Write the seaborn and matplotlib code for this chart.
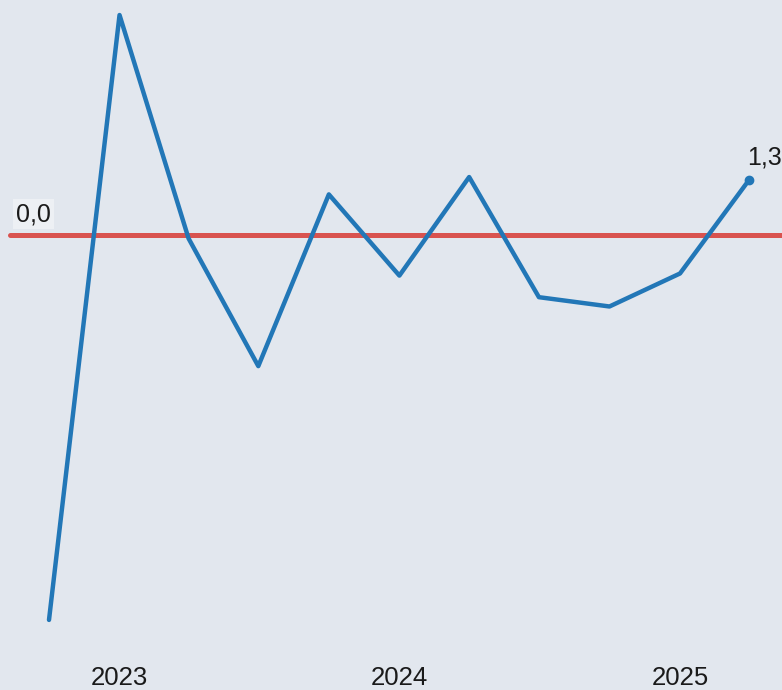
import pandas as pd
import numpy as np
import matplotlib
matplotlib.use('Agg')
import matplotlib.pyplot as plt
import matplotlib.dates as mdates
import matplotlib.transforms as mtransforms
import seaborn as sns

# Quarterly values
dates = ['2022-10-01', '2023-01-01', '2023-04-01', '2023-07-01', '2023-10-01', '2024-01-01',
         '2024-04-01', '2024-07-01', '2024-10-01', '2025-01-01', '2025-04-01']
values = [-9.1, 5.2, -0.08, -3.1, 0.96, -0.96, 1.37, -1.47, -1.69, -0.91, 1.3]
baseline = 0.0
year_ticks = ['2023-01-01', '2024-01-01', '2025-01-01']
year_labels = ['2023', '2024', '2025']

df = pd.DataFrame({'date': pd.to_datetime(dates), 'value': values})

bg = '#e2e7ee'
blue = '#2277b7'
red = '#d9534f'

sns.set_theme(style='white')
plt.rcParams['font.family'] = ['Liberation Sans', 'DejaVu Sans']

fig = plt.figure(figsize=(7.82, 6.9), dpi=100)
fig.patch.set_facecolor(bg)
ax = fig.add_axes([0, 35 / 690, 1, 655 / 690])
ax.set_facecolor(bg)

sns.lineplot(data=df, x='date', y='value', color=blue, linewidth=3.2, ax=ax)
last = df.iloc[-1]
ax.plot(last['date'], last['value'], 'o', color=blue, markersize=6)

ax.axhline(baseline, xmin=10 / 782, xmax=1, color=red, linewidth=3.6, zorder=1)

# map quarters to the reference pixel spacing
d0 = mdates.date2num(df['date'].iloc[0])
d1 = mdates.date2num(df['date'].iloc[-1])
per_px = (d1 - d0) / 700
ax.set_xlim(d0 - 49 * per_px, d1 + 33 * per_px)
ax.set_ylim((235 - 655) / 42.3, 235 / 42.3)

ax.set_xticks(mdates.date2num(pd.to_datetime(year_ticks)))
ax.set_xticklabels(year_labels)
ax.tick_params(axis='x', length=0, pad=8, labelsize=18.5, labelcolor='#1a1a1a')
ax.set_yticks([])
ax.set_xlabel('')
ax.set_ylabel('')
for s in ax.spines.values():
    s.set_visible(False)

fmt = lambda v: f'{v:.1f}'.replace('.', ',')
trans = mtransforms.blended_transform_factory(ax.transAxes, ax.transData)
ax.annotate(fmt(baseline), xy=(16 / 782, baseline), xycoords=trans,
            xytext=(0, 9), textcoords='offset pixels', ha='left', va='bottom',
            fontsize=18, color='#1a1a1a',
            bbox=dict(boxstyle='square,pad=0.12', facecolor='#edf0f4', edgecolor='none'))
ax.annotate(fmt(last['value']), xy=(last['date'], last['value']),
            xytext=(-2, 11), textcoords='offset pixels', ha='left', va='bottom',
            fontsize=18, color='#1a1a1a', annotation_clip=False)

fig.savefig('out.png', dpi=100, facecolor=bg)
